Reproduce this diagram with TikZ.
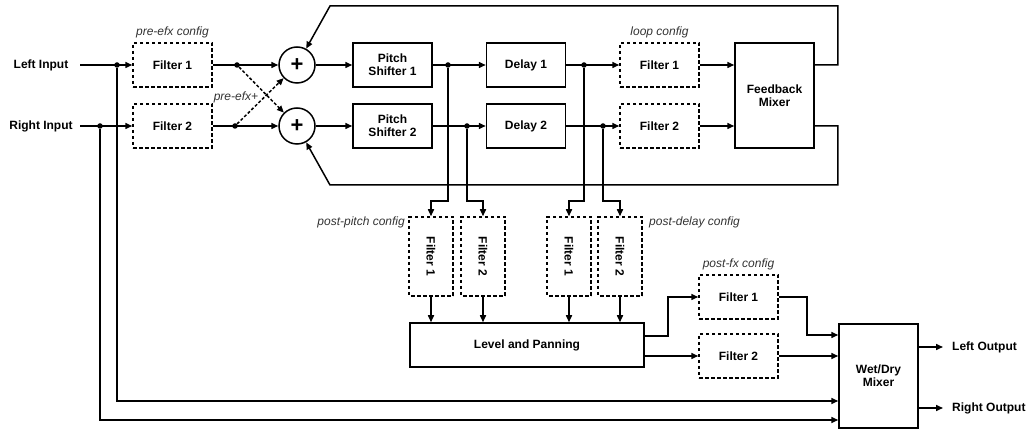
\documentclass[tikz,border=0pt]{standalone}
\usepackage{fontspec}
\setmainfont{Liberation Sans}
\usetikzlibrary{arrows.meta,calc}
\tikzset{
blk/.style={draw,line width=1.5pt,minimum width=79pt,minimum height=44pt,inner sep=1pt,align=center,font=\fontsize{12}{13}\selectfont\bfseries},
filt/.style={blk,dash pattern=on 3.5pt off 2.5pt},
vfilt/.style={filt,rotate=-90},
sumnode/.style={circle,draw,line width=1.5pt,minimum size=36pt,inner sep=0pt,font=\fontsize{22}{22}\selectfont\bfseries},
tap/.style={circle,fill,inner sep=0pt,minimum size=5.5pt},
cfg/.style={font=\fontsize{12}{13}\selectfont\itshape,text=black!80,inner sep=1pt},
iolabel/.style={font=\fontsize{12}{13}\selectfont\bfseries},
sig/.style={line width=1.5pt,-{Triangle[length=7pt,width=6pt]}},
xsig/.style={sig,dash pattern=on 3pt off 2pt}
}

\begin{document}
\begin{tikzpicture}[x=1pt,y=-1pt]
\useasboundingbox (0,0) rectangle (1029,430);

% inputs and pre-effect filters
\node[iolabel,minimum width=78pt] (lin) at (41,65) {Left Input};
\node[iolabel,minimum width=78pt] (rin) at (41,126) {Right Input};
\node[filt] (pf1) at (172.5,65) {Filter 1};
\node[filt] (pf2) at (172.5,126) {Filter 2};
\node[cfg] at (172.5,32) {pre-efx config};
\node[cfg] at (236,97) {pre-efx+};
\node[sumnode] (sum1) at (297,65) {+};
\node[sumnode] (sum2) at (297,126) {+};

% pitch, delay and loop filters
\node[blk] (ps1) at (392.5,65) {Pitch\\Shifter 1};
\node[blk] (ps2) at (392.5,126) {Pitch\\Shifter 2};
\node[blk] (dl1) at (526,65) {Delay 1};
\node[blk] (dl2) at (526,126) {Delay 2};
\node[filt] (lf1) at (659.5,65) {Filter 1};
\node[filt] (lf2) at (659.5,126) {Filter 2};
\node[cfg] at (659.5,32) {loop config};
\node[blk,minimum height=105pt] (fbm) at (774.5,95.5) {Feedback\\Mixer};

% post filters
\node[vfilt] (pp1) at (431,256.5) {Filter 1};
\node[vfilt] (pp2) at (483,256.5) {Filter 2};
\node[vfilt] (pd1) at (569,256.5) {Filter 1};
\node[vfilt] (pd2) at (620,256.5) {Filter 2};
\node[cfg,anchor=east] at (406,222) {post-pitch config};
\node[cfg,anchor=west] at (648,222) {post-delay config};
\node[blk,minimum width=234pt] (lp) at (527,345) {Level and Panning};
\node[filt] (xf1) at (738.5,297) {Filter 1};
\node[filt] (xf2) at (738.5,356) {Filter 2};
\node[cfg] at (738.5,264) {post-fx config};
\node[blk,minimum height=104pt] (wdm) at (878.5,376) {Wet/Dry\\Mixer};
\node[iolabel,anchor=west,inner xsep=9pt] (lout) at (943,347) {Left Output};
\node[iolabel,anchor=west,inner xsep=9pt] (rout) at (943,408) {Right Output};

% junctions
\node[tap] (jl) at (117,65) {};
\node[tap] (jr) at (100,126) {};
\node[tap] (j1) at (237,65) {};
\node[tap] (j2) at (235,126) {};
\node[tap] (k1) at (448,65) {};
\node[tap] (k2) at (467,126) {};
\node[tap] (m1) at (584,65) {};
\node[tap] (m2) at (603,126) {};
\coordinate (fbtop) at (330,6);
\coordinate (fbbot) at (330,185);

\draw[sig] (lin) -- (pf1);
\draw[sig] (rin) -- (pf2);
\draw[sig] (pf1) -- (sum1);
\draw[sig] (pf2) -- (sum2);
\draw[xsig] (j1) -- (sum2);
\draw[xsig] (j2) -- (sum1);
\draw[sig] (sum1) -- (ps1);
\draw[sig] (sum2) -- (ps2);
\draw[sig] (ps1) -- (dl1);
\draw[sig] (ps2) -- (dl2);
\draw[sig] (dl1) -- (lf1);
\draw[sig] (dl2) -- (lf2);
\draw[sig] (lf1) -- (lf1 -| fbm.west);
\draw[sig] (lf2) -- (lf2 -| fbm.west);
\draw[sig] (fbm.east |- lf1) -- ++(23,0) |- (fbtop) -- (sum1);
\draw[sig] (fbm.east |- lf2) -- ++(23,0) |- (fbbot) -- (sum2);

\draw[sig] (k1) -- ++(0,136) -| (pp1);
\draw[sig] (k2) -- ++(0,75) -| (pp2);
\draw[sig] (m1) -- ++(0,136) -| (pd1);
\draw[sig] (m2) -- ++(0,75) -| (pd2);
\foreach \f in {pp1,pp2,pd1,pd2}
  \draw[sig] (\f) -- (\f |- lp.north);

\draw[sig] ([yshift=9pt]lp.east) -- ++(23,0) |- (xf1);
\draw[sig] (lp.east |- xf2) -- (xf2);
\draw[sig] (xf1) -- ++(68.5,0) |- ([yshift=41pt]wdm.west);
\draw[sig] (xf2) -- (xf2 -| wdm.west);
\draw[sig] (jl) |- ([yshift=-25pt]wdm.west);
\draw[sig] (jr) |- ([yshift=-44pt]wdm.west);
\draw[sig] ([yshift=29pt]wdm.east) -- (lout);
\draw[sig] ([yshift=-32pt]wdm.east) -- (rout);
\end{tikzpicture}
\end{document}
